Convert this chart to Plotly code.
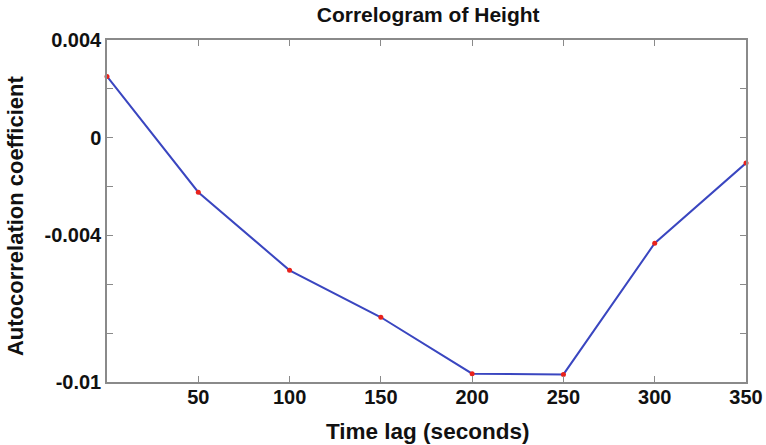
import plotly.graph_objects as go

lags = [0, 50, 100, 150, 200, 250, 300, 350]
acf = [0.00251, -0.00223, -0.00543, -0.00735, -0.00966, -0.00969, -0.00432, -0.00104]

x_tickvals = [50, 100, 150, 200, 250, 300, 350]
x_ticktext = ["50", "100", "150", "200", "250", "300", "350"]
y_tickvals = [0.004, 0.002, 0, -0.002, -0.004, -0.006, -0.008, -0.01]
y_ticktext = ["0.004", "", "0", "", "-0.004", "", "", "-0.01"]

title_text = "Correlogram of Height"
x_title = "Time lag (seconds)"
y_title = "Autocorrelation coefficient"

font_family = "Liberation Sans, Arial, sans-serif"
dark = "#111111"

fig = go.Figure()
fig.add_trace(go.Scatter(
    x=lags, y=acf, mode="lines+markers",
    line=dict(color="#3a46c0", width=2),
    marker=dict(color="#e8221c", size=5),
    showlegend=False, cliponaxis=False,
))

fig.update_layout(
    width=766, height=445,
    margin=dict(l=107, r=20, t=40, b=63, autoexpand=False),
    paper_bgcolor="white", plot_bgcolor="white",
    font=dict(family=font_family, color=dark),
    title=dict(text=title_text, x=0.559, xanchor="center", xref="container",
               y=0.966, yanchor="middle",
               font=dict(size=21, color=dark, weight="bold", family=font_family)),
)
fig.add_annotation(text=x_title, xref="paper", yref="paper", x=0.502, y=-0.146,
                   xanchor="center", yanchor="middle", showarrow=False,
                   font=dict(size=22.5, color=dark, weight="bold", family=font_family))
fig.add_annotation(text=y_title, xref="paper", yref="paper", x=-0.144, y=0.488,
                   xanchor="center", yanchor="middle", showarrow=False, textangle=-90,
                   font=dict(size=22, color=dark, weight="bold", family=font_family))

common = dict(showgrid=False, zeroline=False,
              showline=True, linecolor="#8a8a8a", linewidth=1.5, mirror="ticks",
              ticks="inside", ticklen=6, tickcolor="#8a8a8a", tickwidth=1,
              tickfont=dict(size=20, family=font_family, color=dark, weight="bold"))
fig.update_xaxes(range=[0, 350], tickvals=x_tickvals, ticktext=x_ticktext,
                 automargin=False, ticklabelstandoff=-4, **common)
fig.update_yaxes(range=[-0.01, 0.004], tickvals=y_tickvals, ticktext=y_ticktext,
                 automargin=False, **common)
fig.write_html("out.html")
